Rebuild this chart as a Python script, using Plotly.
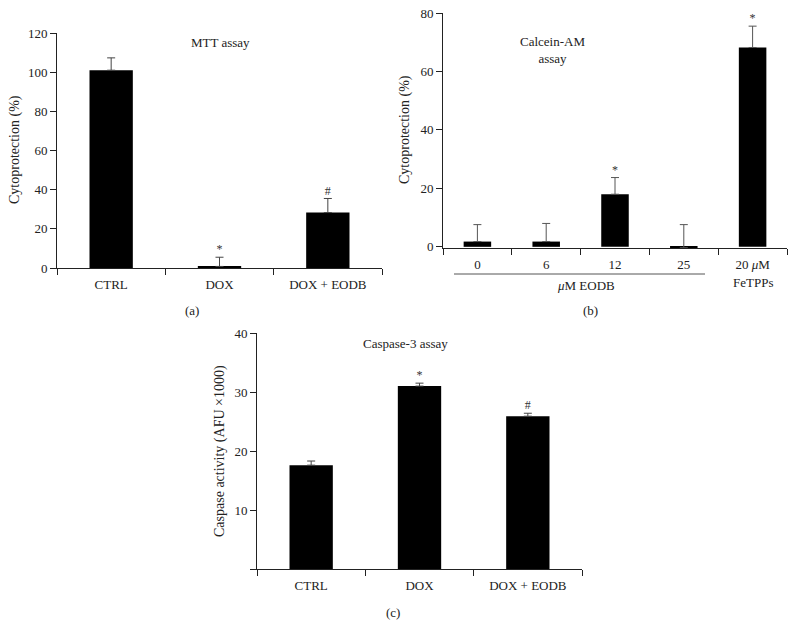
import plotly.graph_objects as go

W, H = 795, 625

# ---- data ----
mtt_cats = ["CTRL", "DOX", "DOX + EODB"]
mtt_vals = [101.0, 0.8, 28.3]
mtt_err = [6.3, 4.7, 7.2]

cal_cats = ["0", "6", "12", "25", "20 <i>μ</i>M"]
cal_vals = [1.8, 1.8, 18.0, -0.3, 68.2]
cal_err = [5.8, 6.2, 5.7, 7.9, 7.3]

cas_cats = ["CTRL", "DOX", "DOX + EODB"]
cas_vals = [17.6, 31.0, 25.9]
cas_err = [0.7, 0.5, 0.5]

mtt_marks = ["", "*", "#"]
cal_marks = ["", "", "*", "", "*"]
cas_marks = ["", "*", "#"]

FONT = "Liberation Serif"
FS = 13


def px(x, y):
    return x / W, 1 - y / H


fig = go.Figure()

def bar(cats, vals, errs, xa, ya, ecolor):
    return go.Bar(x=cats, y=vals, xaxis=xa, yaxis=ya,
                  marker=dict(color="black", line=dict(width=0)), width=0.4,
                  error_y=dict(type="data", array=errs, arrayminus=[0] * len(errs), symmetric=False,
                               color=ecolor, thickness=1, width=4),
                  showlegend=False, hoverinfo="skip")

fig.add_trace(bar(mtt_cats, mtt_vals, mtt_err, "x", "y", "#444"))
fig.add_trace(bar(cal_cats, cal_vals, cal_err, "x2", "y2", "#555"))
fig.add_trace(bar(cas_cats, cas_vals, cas_err, "x3", "y3", "#444"))

def marks_trace(cats, vals, errs, marks, xa, ya, off):
    return go.Scatter(x=cats, y=[v + e + off for v, e in zip(vals, errs)], text=marks,
                      mode="text", textposition="top center", xaxis=xa, yaxis=ya,
                      textfont=dict(family=FONT, size=12, color="#333"),
                      showlegend=False, hoverinfo="skip", cliponaxis=False)

fig.add_trace(marks_trace(mtt_cats, mtt_vals, mtt_err, mtt_marks, "x", "y", 0.5))
fig.add_trace(marks_trace(cal_cats, cal_vals, cal_err, cal_marks, "x2", "y2", 0.3))
fig.add_trace(marks_trace(cas_cats, cas_vals, cas_err, cas_marks, "x3", "y3", 0.2))

axis_common = dict(showline=True, linecolor="#222", linewidth=1, ticks="outside",
                   tickcolor="#222", showgrid=False, zeroline=False, automargin=False,
                   tickfont=dict(family=FONT, size=FS, color="#222"))
xcommon = dict(type="category", tickson="boundaries", ticklen=6, ticklabelstandoff=4, **axis_common)
ycommon = dict(type="linear", ticklen=6, **axis_common)

xa_dom = [px(57, 0)[0], px(382, 0)[0]]
ya_dom = [px(0, 268)[1], px(0, 33)[1]]
xb_dom = [px(443, 0)[0], px(787, 0)[0]]
yb_dom = [px(0, 248)[1], px(0, 13)[1]]
xc_dom = [px(257, 0)[0], px(582, 0)[0]]
yc_dom = [px(0, 569)[1], px(0, 333)[1]]

fig.update_layout(
    template="none",
    width=W, height=H, margin=dict(l=0, r=0, t=0, b=0, pad=0), autosize=False,
    paper_bgcolor="white", plot_bgcolor="white",
    font=dict(family=FONT, size=FS, color="#222"),
    xaxis=dict(domain=xa_dom, anchor="y", range=[-0.5, 2.5], **xcommon),
    yaxis=dict(domain=ya_dom, anchor="x", range=[0, 120], tickvals=[0, 20, 40, 60, 80, 100, 120], **ycommon),
    xaxis2=dict(domain=xb_dom, anchor="y2", range=[-0.5, 4.5], **xcommon),
    yaxis2=dict(domain=yb_dom, anchor="x2", range=[-0.4, 80], tickvals=[0, 20, 40, 60, 80], **ycommon),
    xaxis3=dict(domain=xc_dom, anchor="y3", range=[-0.5, 2.5], **xcommon),
    yaxis3=dict(domain=yc_dom, anchor="x3", range=[0, 40], tickvals=[0, 10, 20, 30, 40],
                ticktext=["", "10", "20", "30", "40"], **ycommon),
)

ann = []

def add_text(x, y, text, angle=0, size=FS):
    xp, yp = px(x, y)
    ann.append(dict(x=xp, y=yp, xref="paper", yref="paper", text=text, showarrow=False,
                    textangle=angle, font=dict(family=FONT, size=size, color="#222"),
                    xanchor="center", yanchor="middle"))

add_text(220, 43, "MTT assay")
add_text(552, 50, "Calcein-AM<br>assay")
add_text(405, 343, "Caspase-3 assay")
add_text(15, 150, "Cytoprotection (%)", -90, 14)
add_text(405, 130, "Cytoprotection (%)", -90, 14)
add_text(220, 451, "Caspase activity (AFU ×1000)", -90, 14)
add_text(753, 282, "FeTPPs")
add_text(586, 285, "<i>μ</i>M EODB")
add_text(192, 310, "(a)")
add_text(590, 310, "(b)")
add_text(393, 612, "(c)")

fig.update_layout(annotations=ann)

x0, y0 = px(454, 274)
x1, _ = px(705, 274)
fig.add_shape(type="line", xref="paper", yref="paper", x0=x0, x1=x1, y0=y0, y1=y0,
              line=dict(color="#555", width=1))

fig.write_html("out.html", config={"displayModeBar": False},
               post_script="document.body.style.margin='0';document.body.style.overflow='hidden';")
